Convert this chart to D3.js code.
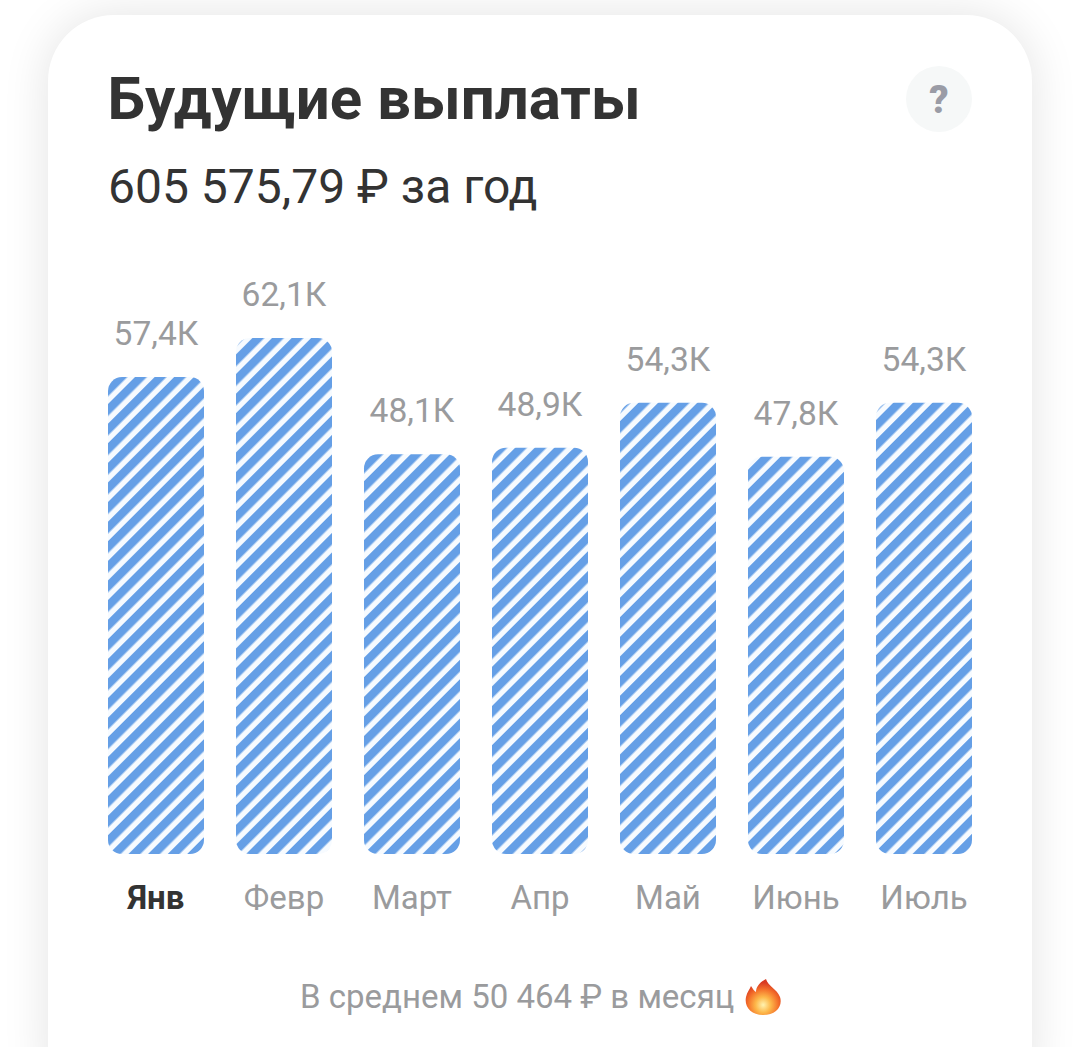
<!DOCTYPE html>
<html><head><meta charset="utf-8">
<script src="https://cdn.jsdelivr.net/npm/d3@7"></script>
<style>html,body{margin:0;padding:0;background:#fff;overflow:hidden}svg{display:block}text{font-family:Roboto,sans-serif}</style>
</head><body><svg id="c" width="1080" height="1047"></svg>
<script>
const months = ["Янв","Февр","Март","Апр","Май","Июнь","Июль"];
const values = [57.4,62.1,48.1,48.9,54.3,47.8,54.3];
const valueLabels = ["57,4К","62,1К","48,1К","48,9К","54,3К","47,8К","54,3К"];
const titleText = "Будущие выплаты";
const subtitleText = "605 575,79 ₽ за год";
const averageText = "В среднем 50 464 ₽ в месяц";

const svg = d3.select("#c");
const defs = svg.append("defs");

const f = defs.append("filter").attr("id","sh").attr("x","-20%").attr("y","-20%").attr("width","140%").attr("height","140%");
f.append("feGaussianBlur").attr("stdDeviation",24);

const p = defs.append("pattern").attr("id","st").attr("patternUnits","userSpaceOnUse")
  .attr("width",13.86).attr("height",13.86).attr("patternTransform","translate(1.2,1.2) rotate(45)");
p.append("rect").attr("width",13.86).attr("height",13.86).attr("fill","#f7fbff");
p.append("rect").attr("width",8.4).attr("height",13.86).attr("fill","#659fe6");

const fg = defs.append("radialGradient").attr("id","fl").attr("cx","50%").attr("cy","72%").attr("r","62%");
fg.append("stop").attr("offset","0").attr("stop-color","#fff3b0");
fg.append("stop").attr("offset","0.35").attr("stop-color","#fdb84a");
fg.append("stop").attr("offset","0.7").attr("stop-color","#f4702a");
fg.append("stop").attr("offset","1").attr("stop-color","#d93a22");

// card
svg.append("rect").attr("x",48).attr("y",15).attr("width",984).attr("height",1100).attr("rx",66)
  .attr("fill","#000").attr("opacity",0.11).attr("filter","url(#sh)");
svg.append("rect").attr("x",48).attr("y",15).attr("width",984).attr("height",1100).attr("rx",66).attr("fill","#fff");

svg.append("text").attr("x",107.5).attr("y",119).attr("font-size",60).attr("font-weight",700)
  .attr("fill","#333").text(titleText);
svg.append("text").attr("x",108).attr("y",203).attr("font-size",48)
  .attr("fill","#333").text(subtitleText);

svg.append("circle").attr("cx",939).attr("cy",99).attr("r",33).attr("fill","#f6f8f8");
svg.append("text").attr("x",939).attr("y",113).attr("text-anchor","middle").attr("font-size",38).attr("font-weight",900)
  .attr("fill","#9a9ca6").text("?");

const x = d3.scaleBand().domain(months).range([108,972]).paddingInner(32/128).paddingOuter(0);
const y = d3.scaleLinear().domain([0,62.1]).range([854,338]);

svg.selectAll("rect.bar").data(values).join("rect").attr("class","bar")
  .attr("x",(d,i)=>x(months[i])).attr("y",d=>y(d))
  .attr("width",x.bandwidth()).attr("height",d=>y(0)-y(d)).attr("rx",14)
  .attr("fill","url(#st)");

svg.selectAll("text.val").data(values).join("text").attr("class","val")
  .attr("x",(d,i)=>x(months[i])+x.bandwidth()/2).attr("y",d=>y(d)-32)
  .attr("text-anchor","middle").attr("font-size",33.6).attr("fill","#9a9b9d")
  .text((d,i)=>valueLabels[i]);

svg.selectAll("text.mon").data(months).join("text").attr("class","mon")
  .attr("x",d=>x(d)+x.bandwidth()/2).attr("y",909)
  .attr("text-anchor","middle").attr("font-size",33)
  .attr("font-weight",(d,i)=>i===0?700:400)
  .attr("fill",(d,i)=>i===0?"#333":"#9a9b9d")
  .text(d=>d);

svg.append("text").attr("x",300).attr("y",1008).attr("font-size",33).attr("fill","#9a9b9d").text(averageText);

// flame emoji drawn as shape
const flame = svg.append("g").attr("transform","translate(763,997)");
flame.append("path").attr("d","M3,-18 C5,-11 14,-8 17,0 C20,9 13,18 0,18 C-12,18 -19,10 -17,0 C-16,-5 -13,-8 -12,-11 C-10,-8 -9,-6 -7,-5 C-7,-10 -3,-15 3,-18 Z").attr("fill","url(#fl)");
</script></body></html>
